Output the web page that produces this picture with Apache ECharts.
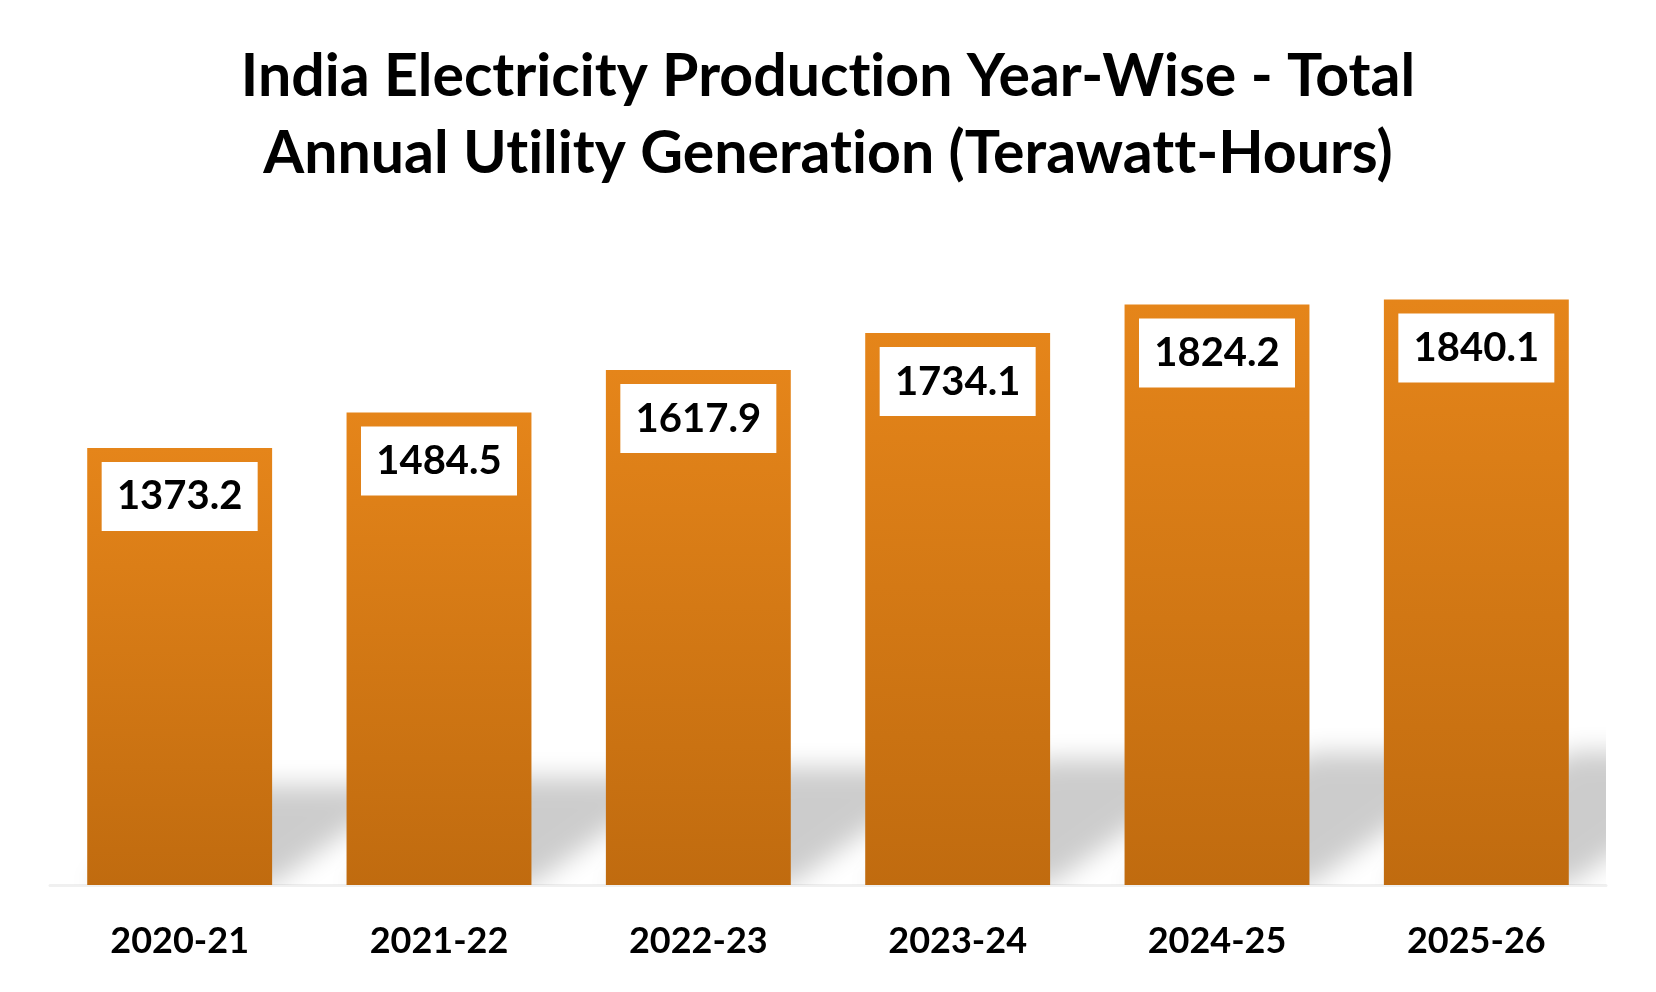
<!DOCTYPE html>
<html>
<head>
<meta charset="utf-8">
<title>India Electricity Production</title>
<script src="https://cdn.jsdelivr.net/npm/echarts@6/dist/echarts.min.js"></script>
<style>
  html, body { margin: 0; padding: 0; background: #fff; }
  #chart { width: 1656px; height: 992px; }
</style>
</head>
<body>
<div id="chart"></div>
<script>
// data
const years = ['2020-21', '2021-22', '2022-23', '2023-24', '2024-25', '2025-26']
const generationTWh = [1373.2, 1484.5, 1617.9, 1734.1, 1824.2, 1840.1]
const titleLines = [
  'India Electricity Production Year-Wise - Total',
  'Annual Utility Generation (Terawatt-Hours)'
]

const FONT = 'Lato, "Noto Sans", sans-serif'
const GAP = 0.287

// Lato joins "ti" / "tt" into ligatures, the reference font does not
const noLig = s => s.replace(/t(?=[it])/g, 't\u200C')

const chart = echarts.init(document.getElementById('chart'))

// soft slanted "wall" shadow behind each bar, drawn from the bar's own scale position
function renderShadow(params, api) {
  const i = api.value(0)
  const v = api.value(1)
  const base = api.coord([i, 0])
  const top = api.coord([i, v])
  const bw = api.size([1, 0])[0] * (1 - GAP)
  const h = (base[1] - top[1]) * 0.228
  const dx = h * 1.4
  const x0 = base[0] - bw / 2
  const x1 = base[0] + bw / 2
  const y0 = base[1]
  const y1 = base[1] - h
  const off = 3000
  return {
    type: 'polygon',
    shape: {
      points: [[x0, y0 - off], [x1, y0 - off], [x1 + dx, y1 - off], [x0 + dx, y1 - off]]
    },
    style: {
      fill: '#000',
      shadowBlur: 26,
      shadowColor: 'rgba(0,0,0,0.2)',
      shadowOffsetX: 0,
      shadowOffsetY: off
    }
  }
}

chart.setOption({
  backgroundColor: '#fff',
  animation: false,
  title: {
    text: titleLines.map(noLig).join('\n'),
    left: 'center',
    top: 33,
    textStyle: {
      fontFamily: FONT,
      fontWeight: 'bold',
      fontSize: 59,
      lineHeight: 77,
      color: '#000'
    }
  },
  grid: { left: 50, right: 50, top: 248.5, bottom: 107, containLabel: false },
  xAxis: {
    type: 'category',
    data: years,
    axisTick: { show: false },
    axisLine: { show: true, lineStyle: { color: '#f0f0f0', width: 3 } },
    axisLabel: {
      margin: 38,
      fontFamily: FONT,
      fontWeight: 'bold',
      fontSize: 36,
      color: '#000'
    }
  },
  yAxis: {
    type: 'value',
    min: 0,
    max: 2000,
    show: false,
    splitLine: { show: false }
  },
  series: [
    {
      type: 'custom',
      z: 1,
      clip: true,
      silent: true,
      renderItem: renderShadow,
      encode: { x: 0, y: 1 },
      data: generationTWh.map((v, i) => [i, v])
    },
    {
      type: 'bar',
      z: 2,
      data: generationTWh,
      barCategoryGap: (GAP * 100) + '%',
      itemStyle: {
        color: new echarts.graphic.LinearGradient(0, 0, 0, 1, [
          { offset: 0, color: '#E5851A' },
          { offset: 1, color: '#C06B0F' }
        ])
      },
      label: {
        show: true,
        position: 'insideTop',
        distance: 14,
        formatter: p => p.value.toFixed(1),
        backgroundColor: '#fff',
        width: 156,
        height: 69,
        lineHeight: 69,
        padding: 0,
        align: 'center',
        fontFamily: FONT,
        fontWeight: 'bold',
        fontSize: 40,
        color: '#000'
      }
    }
  ]
})
</script>
</body>
</html>
